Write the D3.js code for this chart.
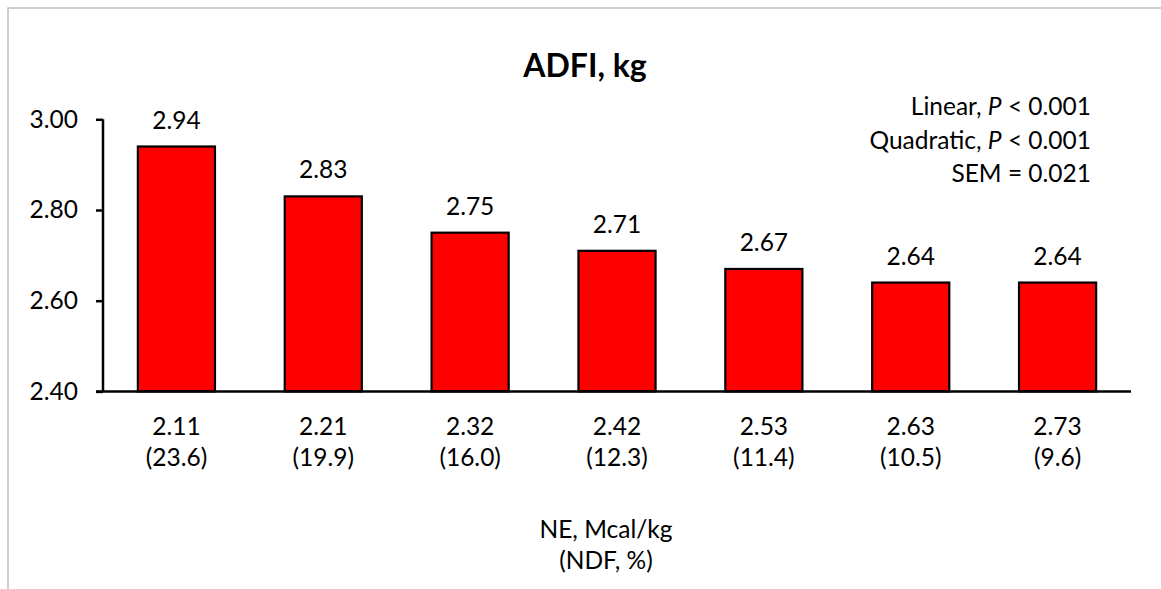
<!DOCTYPE html>
<html>
<head>
<meta charset="utf-8">
<script src="https://cdn.jsdelivr.net/npm/d3@7"></script>
<style>
  html, body { margin: 0; padding: 0; background: #fff; }
  svg { display: block; font-family: Lato, "Open Sans", sans-serif; }
</style>
</head>
<body>
<svg id="chart" width="1161" height="589"></svg>
<script>
const neLabels = ["2.11", "2.21", "2.32", "2.42", "2.53", "2.63", "2.73"];
const ndfLabels = ["(23.6)", "(19.9)", "(16.0)", "(12.3)", "(11.4)", "(10.5)", "(9.6)"];
const adfi = [2.94, 2.83, 2.75, 2.71, 2.67, 2.64, 2.64];
const yTicks = [2.40, 2.60, 2.80, 3.00];
const titleText = "ADFI, kg";
const xTitleLines = ["NE, Mcal/kg", "(NDF, %)"];
const statLines = [
  [{t: "Linear, "}, {t: "P", i: true}, {t: " < 0.001"}],
  [{t: "Quadratic, "}, {t: "P", i: true}, {t: " < 0.001"}],
  [{t: "SEM = 0.021"}]
];

const svg = d3.select("#chart");
const W = 1161, H = 589;
const m = {left: 103, right: 1131, top: 119.3, bottom: 391.4};
const FS = 24.5;

// outer border (top & left visible)
svg.append("rect").attr("x", 8).attr("y", 8).attr("width", W + 20).attr("height", H + 20)
  .attr("fill", "#fff").attr("stroke", "#bfbfbf").attr("stroke-width", 1.5);

const x = d3.scaleBand().domain(neLabels).range([m.left, m.right]).paddingInner(0.475).paddingOuter(0.2375);
const y = d3.scaleLinear().domain([2.40, 3.00]).range([m.bottom, m.top]);

// bars
svg.append("g").selectAll("rect").data(adfi).join("rect")
  .attr("x", (d, i) => x(neLabels[i]))
  .attr("y", d => y(d))
  .attr("width", x.bandwidth())
  .attr("height", d => y(2.40) - y(d))
  .attr("fill", "#ff0000").attr("stroke", "#000").attr("stroke-width", 2.2);

// value labels
svg.append("g").selectAll("text").data(adfi).join("text")
  .attr("x", (d, i) => x(neLabels[i]) + x.bandwidth() / 2)
  .attr("y", d => y(d) - 18)
  .attr("text-anchor", "middle").attr("font-size", FS).attr("fill", "#000")
  .text(d => d.toFixed(2));

// y axis
const yAxis = d3.axisLeft(y).tickValues(yTicks).tickFormat(d3.format(".2f")).tickSize(7).tickPadding(18);
const gy = svg.append("g").attr("transform", `translate(${m.left},0)`).call(yAxis);
gy.select(".domain").attr("stroke", "#000").attr("stroke-width", 2.5).attr("d", `M-0,${m.top}H0V${m.bottom}H-0`);
gy.selectAll(".tick line").attr("stroke", "#000").attr("stroke-width", 2.5);
gy.selectAll(".tick text").attr("font-size", FS).attr("font-family", "Lato, sans-serif").attr("fill", "#000");

// x axis
const xAxis = d3.axisBottom(x).tickSize(0).tickFormat("");
const gx = svg.append("g").attr("transform", `translate(0,${m.bottom})`).call(xAxis);
gx.select(".domain").attr("stroke", "#000").attr("stroke-width", 2.5).attr("d", `M${m.left - 7},0H${m.right}`);

// x category labels (two lines)
const cat = svg.append("g").selectAll("text").data(neLabels).join("text")
  .attr("text-anchor", "middle").attr("font-size", FS).attr("fill", "#000");
cat.append("tspan").attr("x", d => x(d) + x.bandwidth() / 2).attr("y", 435).text(d => d);
cat.append("tspan").attr("x", d => x(d) + x.bandwidth() / 2).attr("y", 466).text((d, i) => ndfLabels[i]);

// x axis title
svg.append("g").selectAll("text").data(xTitleLines).join("text")
  .attr("x", 606).attr("y", (d, i) => 538 + i * 31)
  .attr("text-anchor", "middle").attr("font-size", FS).attr("fill", "#000").text(d => d);

// chart title
svg.append("text").attr("x", 585).attr("y", 77).attr("text-anchor", "middle")
  .attr("font-size", 32).attr("font-weight", "bold").attr("fill", "#000").text(titleText);

// stats annotation
const st = svg.append("g").selectAll("text").data(statLines).join("text")
  .attr("x", 1091).attr("y", (d, i) => 115 + i * 33.5)
  .attr("text-anchor", "end").attr("font-size", FS).attr("fill", "#000");
st.selectAll("tspan").data(d => d).join("tspan")
  .attr("font-style", d => d.i ? "italic" : null).text(d => d.t);
</script>
</body>
</html>
